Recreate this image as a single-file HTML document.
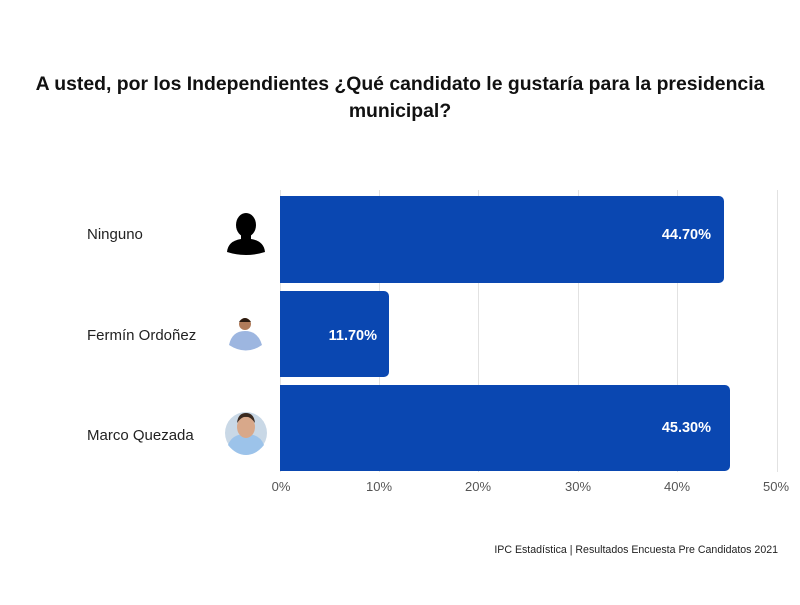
<!DOCTYPE html>
<html><head><meta charset="utf-8"><style>
html,body{margin:0;padding:0;background:#fff;}
body{width:800px;height:600px;overflow:hidden;font-family:"Liberation Sans",sans-serif;}
</style></head><body>
<svg width="800" height="600" xmlns="http://www.w3.org/2000/svg" font-family="Liberation Sans, sans-serif">
<rect width="800" height="600" fill="#fff"/>
<text x="400" y="90" text-anchor="middle" font-size="19.4" font-weight="bold" fill="#111">A usted, por los Independientes ¿Qué candidato le gustaría para la presidencia</text>
<text x="400" y="117" text-anchor="middle" font-size="19.4" font-weight="bold" fill="#111">municipal?</text>
<g stroke="#e2e2e2" stroke-width="1">
<line x1="280.5" y1="190" x2="280.5" y2="472"/>
<line x1="379.5" y1="190" x2="379.5" y2="472"/>
<line x1="478.5" y1="190" x2="478.5" y2="472"/>
<line x1="578.5" y1="190" x2="578.5" y2="472"/>
<line x1="677.5" y1="190" x2="677.5" y2="472"/>
<line x1="777.5" y1="190" x2="777.5" y2="472"/>
</g>
<g fill="#0a47b1">
<path d="M280 196 H719 a5 5 0 0 1 5 5 V278 a5 5 0 0 1 -5 5 H280 Z"/>
<path d="M280 291 H384 a5 5 0 0 1 5 5 V372 a5 5 0 0 1 -5 5 H280 Z"/>
<path d="M280 385 H725 a5 5 0 0 1 5 5 V466 a5 5 0 0 1 -5 5 H280 Z"/>
</g>
<g fill="#fff" font-size="14.5" font-weight="bold" text-anchor="end">
<text x="711" y="239">44.70%</text>
<text x="377" y="340">11.70%</text>
<text x="711" y="432">45.30%</text>
</g>
<g fill="#222" font-size="15">
<text x="87" y="239">Ninguno</text>
<text x="87" y="340">Fermín Ordoñez</text>
<text x="87" y="440">Marco Quezada</text>
</g>
<g fill="#000">
<ellipse cx="246" cy="225" rx="10" ry="12"/>
<rect x="241" y="233" width="10" height="8"/>
<path d="M227 252 Q228 241 241 239 L251 239 Q264 241 265 252 Q246 258 227 252 Z"/>
</g>
<circle cx="245" cy="336" r="17" fill="#fff"/>
<path d="M229 345 Q232 331 245 331 Q258 331 262 345 Q246 356 229 345 Z" fill="#9db6e0"/>
<circle cx="245" cy="324" r="6" fill="#b07b5a"/>
<path d="M239 322 Q245 314 251 322 Z" fill="#2a1a10"/>
<circle cx="246" cy="433" r="21" fill="#c9d8e6"/>
<path d="M228 445 Q232 434 246 434 Q260 434 264 445 Q256 455 246 455 Q236 455 228 445 Z" fill="#9cc3ea"/>
<ellipse cx="246" cy="427" rx="9" ry="11" fill="#d8a88a"/>
<path d="M237 423 Q238 413 246 413 Q254 413 255 423 Q250 416 246 417 Q242 416 237 423 Z" fill="#3a2a20"/>
<g fill="#555" font-size="13" text-anchor="middle">
<text x="281" y="491">0%</text>
<text x="379" y="491">10%</text>
<text x="478" y="491">20%</text>
<text x="578" y="491">30%</text>
<text x="677" y="491">40%</text>
<text x="776" y="491">50%</text>
</g>
<text x="778" y="553" text-anchor="end" font-size="10.6" fill="#222">IPC Estadística | Resultados Encuesta Pre Candidatos 2021</text>
</svg>
</body></html>
